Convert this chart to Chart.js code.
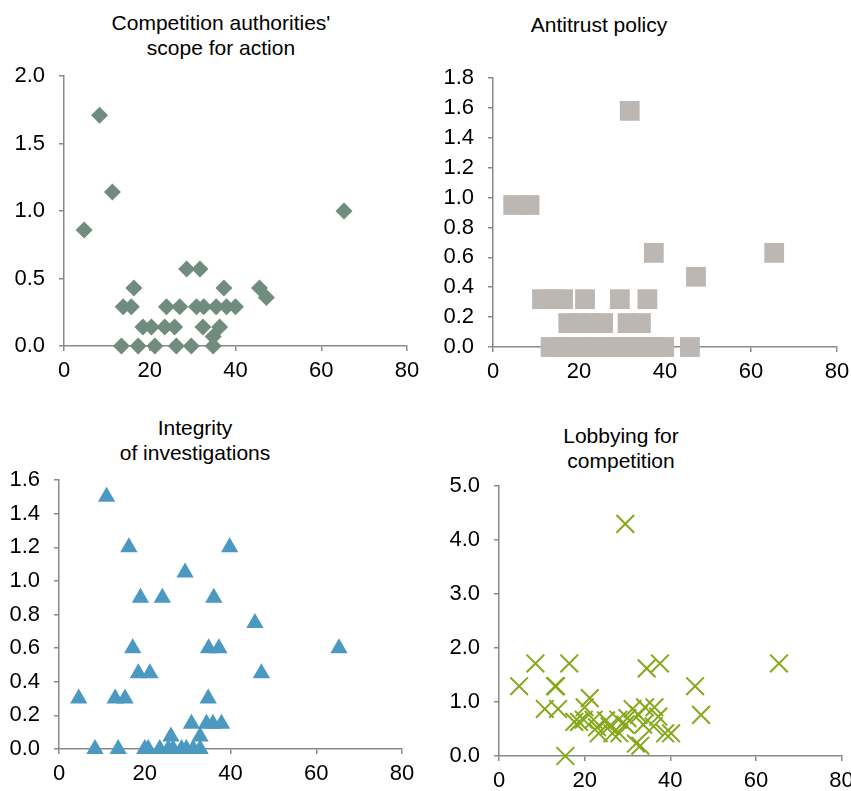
<!DOCTYPE html>
<html>
<head>
<meta charset="utf-8">
<script src="https://cdn.jsdelivr.net/npm/chart.js@4.4.1/dist/chart.umd.min.js"></script>
<style>
  html, body { margin: 0; padding: 0; background: #fff; overflow: hidden; }
  body { width: 851px; height: 791px; position: relative; font-family: "Liberation Sans", Arial, sans-serif; }
  .title { position: absolute; width: 400px; text-align: center; font-size: 21px; line-height: 25px; color: #000; }
  .panel { position: absolute; }
</style>
</head>
<body>
<div class="title" style="left:21px;top:10px">Competition authorities'<br>scope for action</div>
<div class="title" style="left:399px;top:12px">Antitrust policy</div>
<div class="title" style="left:-5px;top:415px">Integrity<br>of investigations</div>
<div class="title" style="left:421px;top:423px">Lobbying for<br>competition</div>

<div class="panel" style="left:4px;top:62px;width:417px;height:316px"><canvas id="scopeChart"></canvas></div>
<div class="panel" style="left:433px;top:64px;width:418px;height:315px"><canvas id="antitrustChart"></canvas></div>
<div class="panel" style="left:1px;top:466px;width:415px;height:315px"><canvas id="integrityChart"></canvas></div>
<div class="panel" style="left:439px;top:471px;width:417px;height:317px"><canvas id="lobbyChart"></canvas></div>

<script>
// --------------------
// Data
// --------------------
const xTicks = [0, 20, 40, 60, 80];

const scopeX = [4.7, 8.3, 11.3, 65.3, 28.6, 31.7, 16.3, 37.3, 45.6, 47.2,
  13.8, 15.7, 23.9, 27.0, 30.9, 32.6, 35.5, 37.9, 40.0,
  18.4, 20.4, 23.5, 25.8, 32.4, 36.3, 34.8,
  13.4, 17.3, 21.2, 26.2, 29.7, 34.8];
const scopeY = [0.86, 1.71, 1.14, 1.0, 0.57, 0.57, 0.43, 0.43, 0.43, 0.36,
  0.29, 0.29, 0.29, 0.29, 0.29, 0.29, 0.29, 0.29, 0.29,
  0.14, 0.14, 0.14, 0.14, 0.14, 0.14, 0.07,
  0, 0, 0, 0, 0, 0];

const antitrustX = [4.7, 8.5, 31.8, 37.4, 65.4, 47.2,
  11.4, 14.0, 16.3, 21.4, 29.5, 35.9,
  17.5, 20.2, 22.9, 25.6, 31.3, 34.4,
  13.4, 15.9, 18.3, 21.0, 23.3, 26.0, 28.3, 30.7, 33.0, 35.3, 37.7, 39.8, 45.8];
const antitrustY = [0.95, 0.95, 1.58, 0.63, 0.63, 0.47,
  0.32, 0.32, 0.32, 0.32, 0.32, 0.32,
  0.16, 0.16, 0.16, 0.16, 0.16, 0.16,
  0, 0, 0, 0, 0, 0, 0, 0, 0, 0, 0, 0, 0];

const integrityX = [11.1, 16.3, 39.8, 29.4, 19.0, 24.1, 36.1, 45.7,
  17.2, 34.9, 37.3, 65.3, 18.5, 21.2, 47.2,
  4.6, 13.1, 15.4, 34.8, 30.9, 34.4, 35.9, 37.9, 32.9, 26.1,
  8.4, 13.8, 20.0, 20.8, 23.5, 25.5, 26.6, 28.6, 29.7, 31.3, 32.9];
const integrityY = [1.5, 1.2, 1.2, 1.05, 0.9, 0.9, 0.9, 0.75,
  0.6, 0.6, 0.6, 0.6, 0.45, 0.45, 0.45,
  0.3, 0.3, 0.3, 0.3, 0.15, 0.15, 0.15, 0.15, 0.075, 0.075,
  0, 0, 0, 0, 0, 0, 0, 0, 0, 0, 0];

const lobbyX = [29.5, 8.5, 16.4, 37.6, 65.4, 34.5, 4.7, 13.1, 13.3, 45.8,
  21.2, 47.2, 10.7, 13.8, 20.0, 31.2, 34.1, 36.3,
  17.6, 18.7, 19.8, 22.1, 25.0, 27.9, 30.0, 32.6,
  22.9, 25.8, 23.3, 26.5, 28.1, 36.1, 38.8, 40.2,
  32.0, 33.0, 15.5, 33.7, 29.5, 37.2];
const lobbyY = [4.29, 1.71, 1.71, 1.71, 1.71, 1.62, 1.29, 1.29, 1.29, 1.29,
  1.07, 0.76, 0.87, 0.87, 0.9, 0.87, 0.9, 0.9,
  0.63, 0.63, 0.67, 0.67, 0.66, 0.67, 0.7, 0.76,
  0.53, 0.55, 0.42, 0.42, 0.42, 0.55, 0.42, 0.42,
  0.23, 0.19, 0, 0.58, 0.58, 0.73];

// --------------------
// Helper: one scatter panel
// --------------------
const axisGray = '#898989';
const tickFont = { family: '"Liberation Sans", Arial, sans-serif', size: 22 };

function makeScatter(id, xs, ys, yMax, yStep, yWidth, point) {
  const pts = xs.map((x, i) => ({ x, y: ys[i] }));
  return new Chart(document.getElementById(id), {
    type: 'scatter',
    data: {
      datasets: [Object.assign({ data: pts, clip: false }, point)]
    },
    options: {
      responsive: true,
      maintainAspectRatio: false,
      animation: false,
      events: [],
      layout: { padding: { top: 14, right: 14, bottom: 0, left: 0 } },
      plugins: { legend: { display: false }, tooltip: { enabled: false } },
      scales: {
        x: {
          type: 'linear', min: xTicks[0], max: xTicks[xTicks.length - 1],
          afterBuildTicks: s => { s.ticks = xTicks.map(v => ({ value: v })); },
          // fixed size, no extra room for label overflow
          afterFit: s => { s.height = 32; s.paddingLeft = 0; s.paddingRight = 0; },
          ticks: { font: tickFont, color: '#000', padding: 7, maxRotation: 0 },
          grid: { drawOnChartArea: false, drawTicks: true, tickLength: 5, color: axisGray, lineWidth: 1.5 },
          border: { color: axisGray, width: 1.5 }
        },
        y: {
          min: 0, max: yMax,
          afterFit: s => { s.width = yWidth; s.paddingTop = 0; s.paddingBottom = 0; },
          ticks: { stepSize: yStep, font: tickFont, color: '#000', padding: 14, callback: v => v.toFixed(1) },
          grid: { drawOnChartArea: false, drawTicks: true, tickLength: 5, color: axisGray, lineWidth: 1.5 },
          border: { color: axisGray, width: 1.5 }
        }
      }
    }
  });
}

// --------------------
// Build the four panels
// --------------------
makeScatter('scopeChart', scopeX, scopeY, 2.0, 0.5, 60,
  { pointStyle: 'rectRot', pointRadius: 8.5, backgroundColor: '#6f8c7f', borderWidth: 0 });
makeScatter('antitrustChart', antitrustX, antitrustY, 1.8, 0.2, 60,
  { pointStyle: 'rect', pointRadius: 14, backgroundColor: '#bcb7b2', borderWidth: 0 });
makeScatter('integrityChart', integrityX, integrityY, 1.6, 0.2, 58,
  { pointStyle: 'triangle', pointRadius: 10, backgroundColor: '#4b98c1', borderWidth: 0 });
makeScatter('lobbyChart', lobbyX, lobbyY, 5.0, 1.0, 60,
  { pointStyle: 'crossRot', pointRadius: 12.5, borderColor: '#86a81b', backgroundColor: '#86a81b', borderWidth: 2 });
</script>
</body>
</html>
